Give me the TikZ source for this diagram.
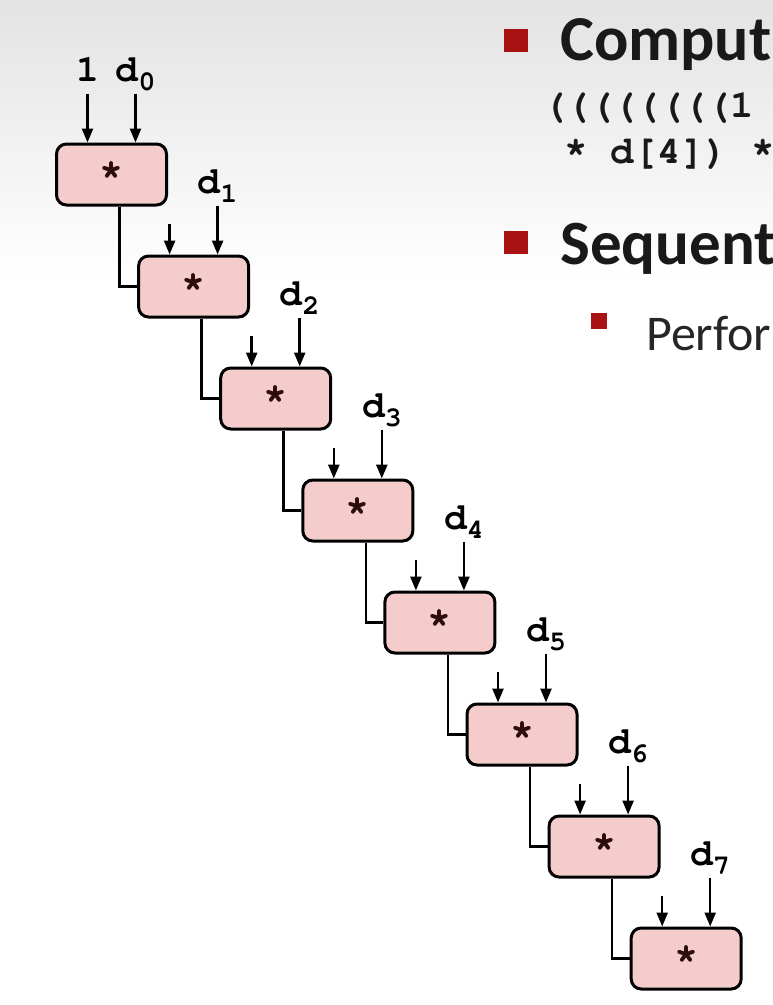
\documentclass[tikz,border=0pt]{standalone}
\usepackage{fontspec}
\setmainfont{Carlito}
\newfontfamily\codefont{TeX Gyre Cursor}
\usetikzlibrary{positioning,arrows.meta}
\definecolor{boxpink}{RGB}{244,204,204}
\definecolor{bulletred}{RGB}{168,18,18}
\definecolor{startext}{RGB}{45,12,12}
\newcommand{\dsub}[1]{d\raisebox{-9pt}{\fontsize{28}{28}\selectfont #1}}

\tikzset{
  mulbox/.style={draw,line width=3pt,rounded corners=10pt,fill=boxpink,
    minimum width=110pt,minimum height=61pt,inner sep=0pt,
    font=\codefont\bfseries\fontsize{40}{40}\selectfont,text=startext},
  inlabel/.style={anchor=base,inner sep=0pt,
    font=\codefont\bfseries\fontsize{38}{38}\selectfont},
  codeline/.style={anchor=base west,inner sep=0pt,
    font=\codefont\bfseries\fontsize{39}{39}\selectfont,text=black!90},
  feed/.style={line width=2.5pt,-{Triangle[length=14pt,width=11pt]}},
  wire/.style={line width=2.5pt},
  bullet/.style={fill=bulletred},
}

\begin{document}
\begin{tikzpicture}[x=1pt,y=-1pt,node distance=112pt and 82.1pt,on grid]
    \useasboundingbox (0,0) rectangle (773,1005);
    \shade[top color=black!11,bottom color=white] (0,0) rectangle (773,280);
    \clip (0,0) rectangle (773,1005);

    % the chain of multiplications
    \node[mulbox] (m0) at (111.5,174.5) {*};
    \node[mulbox] (m1) [below right=of m0] {*};
    \node[mulbox] (m2) [below right=of m1] {*};
    \node[mulbox] (m3) [below right=of m2] {*};
    \node[mulbox] (m4) [below right=of m3] {*};
    \node[mulbox] (m5) [below right=of m4] {*};
    \node[mulbox] (m6) [below right=of m5] {*};
    \node[mulbox] (m7) [below right=of m6] {*};

    % inputs of the first one
    \node[inlabel] (one) at ([xshift=-24pt,yshift=61pt]m0.north) {1};
    \node[inlabel] (d0) at ([xshift=24pt,yshift=61pt]m0.north) {\dsub{0}};
    \coordinate (p0) at ([xshift=-24pt,yshift=49pt]m0.north);
    \coordinate (q0) at ([xshift=24pt,yshift=49pt]m0.north);
    \draw[feed] (p0) -- (p0 |- m0.north);
    \draw[feed] (q0) -- (q0 |- m0.north);

    % the others
    \foreach \i in {1,...,7} {
        \node[inlabel] (d\i) at ([xshift=24pt,yshift=61pt]m\i.north) {\dsub{\i}};
        \coordinate (p\i) at ([xshift=-24pt,yshift=31pt]m\i.north);
        \coordinate (q\i) at ([xshift=24pt,yshift=49pt]m\i.north);
        \draw[feed] (p\i) -- (p\i |- m\i.north);
        \draw[feed] (q\i) -- (q\i |- m\i.north);
    }
    \foreach \i [count=\j from 0] in {1,...,7}
        \draw[wire] ([xshift=8pt]m\j.south) |- (m\i.west);

    % slide text on the right
    \fill[bullet] (504,29) rectangle (528,52);
    \node[anchor=base west,inner sep=0pt,font=\bfseries\fontsize{64}{64}\selectfont,text=black!90]
        (comp) at (560,60) {Comput};
    \node[codeline] (expr1) at (543,117) {((((((((1};
    \node[codeline] (expr2) at (564,163) {* d[4]) *};
    \fill[bullet] (504,231) rectangle (528,254);
    \node[anchor=base west,inner sep=0pt,font=\bfseries\fontsize{63}{63}\selectfont,text=black!90]
        (seq) at (560,264) {Sequent};
    \fill[bullet] (591,313) rectangle (607,329);
    \node[anchor=base west,inner sep=0pt,font=\fontsize{50}{50}\selectfont,text=black!85]
        (perf) at (646,350) {Perfor};
\end{tikzpicture}
\end{document}
